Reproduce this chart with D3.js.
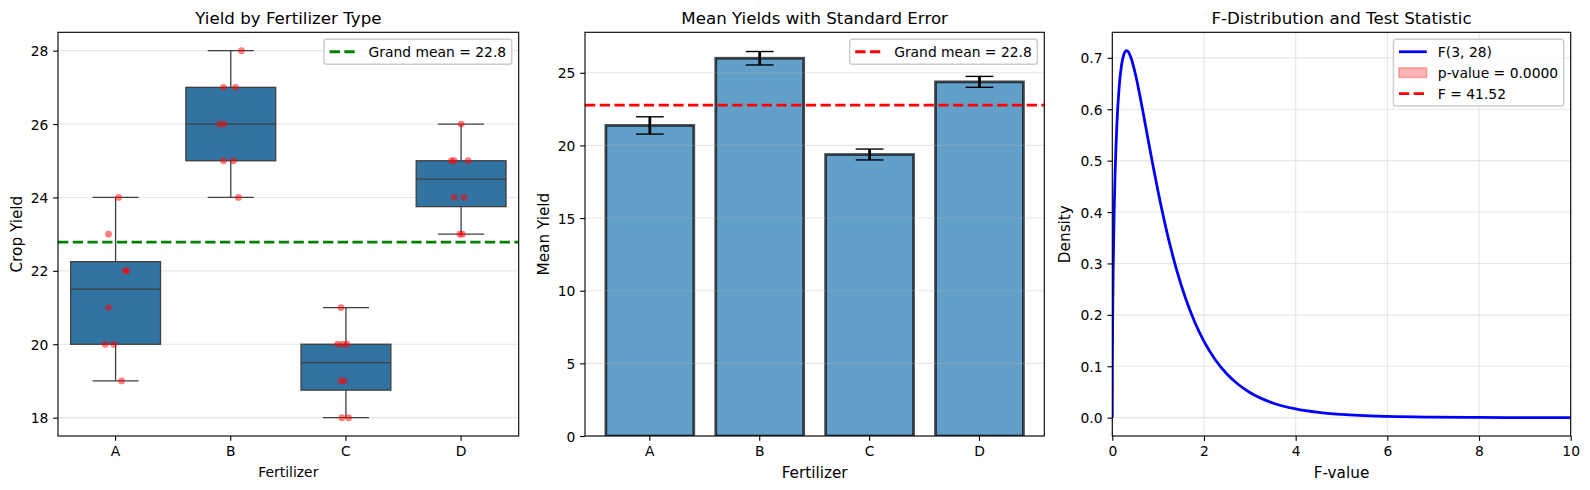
<!DOCTYPE html>
<html>
<head>
<meta charset="utf-8">
<script src="https://cdn.jsdelivr.net/npm/d3@7"></script>
<style>
  body { margin: 0; background: #ffffff; }
  svg { display: block; font-family: "DejaVu Sans", sans-serif; }
</style>
</head>
<body>
<svg id="chart" width="1590" height="490"></svg>
<script>
// ---------------- DATA ----------------
const categories = ["A", "B", "C", "D"];
const yieldA = [24, 23, 22, 22, 21, 20, 20, 19];
const yieldB = [28, 27, 27, 26, 26, 25, 25, 24];
const yieldC = [21, 20, 20, 20, 19, 19, 18, 18];
const yieldD = [26, 25, 25, 25, 24, 24, 23, 23];
// strip-plot jitter (fraction of a category slot)
const jitterA = [0.026, -0.061, 0.084, 0.098, -0.061, -0.090, -0.017, 0.052];
const jitterB = [0.093, -0.063, 0.041, -0.098, -0.058, -0.063, 0.023, 0.067];
const jitterC = [-0.043, -0.072, -0.029, 0.009, -0.043, -0.015, -0.035, 0.023];
const jitterD = [0.0, -0.084, -0.061, 0.061, -0.061, 0.026, -0.011, 0.011];

const boxYTicks = [18, 20, 22, 24, 26, 28];
const barYTicks = [0, 5, 10, 15, 20, 25];
const fXTicks = [0, 2, 4, 6, 8, 10];
const fYTicks = [0, 0.1, 0.2, 0.3, 0.4, 0.5, 0.6, 0.7];

// F(3, 28) density, values read/evaluated at these F-values
const fX = [0, 0.001, 0.0025, 0.005, 0.01, 0.02, 0.04, 0.06, 0.08, 0.1, 0.15, 0.2, 0.25, 0.3, 0.3111, 0.35, 0.4, 0.5, 0.6, 0.7, 0.8, 0.9, 1.0, 1.2, 1.4, 1.6, 1.8, 2.0, 2.25, 2.5, 2.75, 3.0, 3.5, 4.0, 4.5, 5, 6, 7, 8, 9, 10];
const fDensity = [0, 0.0672, 0.1060, 0.1492, 0.2093, 0.2911, 0.3983, 0.4720, 0.5273, 0.5705, 0.6437, 0.6851, 0.7063, 0.7138, 0.7140, 0.7115, 0.7023, 0.6701, 0.6275, 0.5803, 0.5320, 0.4846, 0.4394, 0.3576, 0.2885, 0.2317, 0.1856, 0.1484, 0.1123, 0.0850, 0.0645, 0.0490, 0.0286, 0.0169, 0.0101, 0.0062, 0.0024, 0.00096, 0.00041, 0.00018, 0.00008];
const dfBetween = 3;
const dfWithin = 28;
const pValueText = "0.0000";

const titles = ["Yield by Fertilizer Type", "Mean Yields with Standard Error", "F-Distribution and Test Statistic"];

// ---------------- DERIVED ----------------
const groups = [yieldA, yieldB, yieldC, yieldD];
const jitters = [jitterA, jitterB, jitterC, jitterD];
const allValues = groups.flat();
const grandMean = d3.mean(allValues);
const means = groups.map(g => d3.mean(g));
const ses = groups.map(g => d3.deviation(g) / Math.sqrt(g.length));
const ssb = d3.sum(groups, (g, i) => g.length * (means[i] - grandMean) ** 2);
const ssw = d3.sum(groups, (g, i) => d3.sum(g, v => (v - means[i]) ** 2));
const fStat = (ssb / dfBetween) / (ssw / dfWithin);

// ---------------- STYLE / LAYOUT ----------------
const K = 100 / 72;               // px per point
const FS_TICK = 10 * K, FS_LAB = 11 * K, FS_TITLE = 12 * K;
const TOP = 32.3, BOT = 436;
const P = {
  left:  {x0: 58,     x1: 518.7},
  mid:   {x0: 585,    x1: 1044.3},
  right: {x0: 1112.3, x1: 1570.7}
};
const DASH = `${3.7 * 2 * K},${1.6 * 2 * K}`;

const svg = d3.select("#chart");
svg.append("rect").attr("width", 1590).attr("height", 490).attr("fill", "#fff");
const defs = svg.append("defs");
Object.entries(P).forEach(([k, p]) => {
  defs.append("clipPath").attr("id", "clip-" + k)
    .append("rect").attr("x", p.x0).attr("y", TOP).attr("width", p.x1 - p.x0).attr("height", BOT - TOP);
});

function styleAxis(sel, left) {
  sel.select(".domain").remove();
  sel.attr("font-family", null).attr("font-size", null);
  sel.selectAll(".tick line").attr("stroke", "#000").attr("stroke-width", 0.8 * K);
  const t = sel.selectAll(".tick text").attr("fill", "#000")
    .style("font-size", FS_TICK + "px").style("font-family", "DejaVu Sans");
  if (left) t.attr("dy", "0.36em");
}
function yGrid(g, y, ticks, p) {
  g.append("g").selectAll("line").data(ticks).join("line")
    .attr("x1", p.x0).attr("x2", p.x1).attr("y1", d => y(d)).attr("y2", d => y(d))
    .attr("stroke", "#b0b0b0").attr("stroke-opacity", 0.3).attr("stroke-width", 0.8 * K);
}
function xGrid(g, x, ticks) {
  g.append("g").selectAll("line").data(ticks).join("line")
    .attr("x1", d => x(d)).attr("x2", d => x(d)).attr("y1", TOP).attr("y2", BOT)
    .attr("stroke", "#b0b0b0").attr("stroke-opacity", 0.3).attr("stroke-width", 0.8 * K);
}
function frame(g, p) {
  g.append("rect").attr("x", p.x0).attr("y", TOP).attr("width", p.x1 - p.x0).attr("height", BOT - TOP)
    .attr("fill", "none").attr("stroke", "#000").attr("stroke-width", 0.8 * K);
}
function title(g, p, txt) {
  g.append("text").attr("x", (p.x0 + p.x1) / 2).attr("y", 24).attr("text-anchor", "middle")
    .style("font-size", FS_TITLE + "px").attr("fill", "#000").text(txt);
}
function xLabel(g, p, txt, fs, yb) {
  g.append("text").attr("x", (p.x0 + p.x1) / 2).attr("y", yb).attr("text-anchor", "middle")
    .style("font-size", fs + "px").attr("fill", "#000").text(txt);
}
function yLabel(g, xb, txt, fs) {
  const cy = (TOP + BOT) / 2;
  g.append("text").attr("transform", `translate(${xb},${cy}) rotate(-90)`).attr("text-anchor", "middle")
    .style("font-size", fs + "px").attr("fill", "#000").text(txt);
}
function legend(g, p, items) {
  const pad = 0.4 * FS_TICK, hl = 2 * FS_TICK, htp = 0.8 * FS_TICK, rowH = 20.9;
  const lg = g.append("g");
  const box = lg.append("rect");
  const top = TOP + 0.5 * FS_TICK;
  const texts = items.map((it, i) => lg.append("text")
    .attr("y", top + pad + 6.95 + i * rowH + 5.4)
    .style("font-size", FS_TICK + "px").attr("fill", "#000").text(it.label));
  const tw = d3.max(texts, t => t.node().getComputedTextLength());
  const w = pad + hl + htp + tw + pad;
  const h = 2 * pad + FS_TICK + (items.length - 1) * rowH;
  const left = p.x1 - 0.5 * FS_TICK - w;
  box.attr("x", left).attr("y", top).attr("width", w).attr("height", h).attr("rx", 2.5)
    .attr("fill", "#fff").attr("fill-opacity", 0.8).attr("stroke", "#cccccc").attr("stroke-width", 1 * K);
  texts.forEach(t => t.attr("x", left + pad + hl + htp));
  items.forEach((it, i) => {
    const cy = top + pad + 6.95 + i * rowH;
    const hx = left + pad;
    if (it.type === "patch") {
      lg.append("rect").attr("x", hx).attr("y", cy - 0.35 * FS_TICK).attr("width", hl).attr("height", 0.7 * FS_TICK)
        .attr("fill", it.color).attr("fill-opacity", 0.3).attr("stroke", it.color).attr("stroke-opacity", 0.3).attr("stroke-width", K);
    } else {
      lg.append("line").attr("x1", hx).attr("x2", hx + hl).attr("y1", cy).attr("y2", cy)
        .attr("stroke", it.color).attr("stroke-width", 2 * K)
        .attr("stroke-dasharray", it.type === "dash" ? DASH : null);
    }
  });
}

// ================= PANEL 1: BOX + STRIP =================
{
  const p = P.left;
  const g = svg.append("g");
  const x = d3.scaleBand().domain(categories).range([p.x0, p.x1]).padding(0);
  const y = d3.scaleLinear().domain([17.5, 28.5]).range([BOT, TOP]);
  const bw = x.bandwidth();
  yGrid(g, y, boxYTicks, p);

  const plot = g.append("g").attr("clip-path", "url(#clip-left)");
  const lineCol = "#3f3f3f", lw = 1.3;
  categories.forEach((c, i) => {
    const s = groups[i].slice().sort(d3.ascending);
    const q1 = d3.quantile(s, 0.25), med = d3.quantile(s, 0.5), q3 = d3.quantile(s, 0.75);
    const iqr = q3 - q1;
    const lo = d3.min(s.filter(v => v >= q1 - 1.5 * iqr));
    const hi = d3.max(s.filter(v => v <= q3 + 1.5 * iqr));
    const cx = x(c) + bw / 2, boxW = 0.78 * bw, capW = 0.4 * bw;
    plot.append("line").attr("x1", cx).attr("x2", cx).attr("y1", y(q3)).attr("y2", y(hi)).attr("stroke", lineCol).attr("stroke-width", lw);
    plot.append("line").attr("x1", cx).attr("x2", cx).attr("y1", y(q1)).attr("y2", y(lo)).attr("stroke", lineCol).attr("stroke-width", lw);
    plot.append("line").attr("x1", cx - capW / 2).attr("x2", cx + capW / 2).attr("y1", y(hi)).attr("y2", y(hi)).attr("stroke", lineCol).attr("stroke-width", lw);
    plot.append("line").attr("x1", cx - capW / 2).attr("x2", cx + capW / 2).attr("y1", y(lo)).attr("y2", y(lo)).attr("stroke", lineCol).attr("stroke-width", lw);
    plot.append("rect").attr("x", cx - boxW / 2).attr("y", y(q3)).attr("width", boxW).attr("height", y(q1) - y(q3))
      .attr("fill", "#3274a1").attr("stroke", lineCol).attr("stroke-width", lw);
    plot.append("line").attr("x1", cx - boxW / 2).attr("x2", cx + boxW / 2).attr("y1", y(med)).attr("y2", y(med)).attr("stroke", lineCol).attr("stroke-width", lw);
  });
  categories.forEach((c, i) => {
    plot.append("g").selectAll("circle").data(groups[i]).join("circle")
      .attr("cx", (v, j) => x(c) + bw / 2 + jitters[i][j] * bw)
      .attr("cy", v => y(v)).attr("r", 3.4)
      .attr("fill", "red").attr("fill-opacity", 0.5);
  });
  plot.append("line").attr("x1", p.x0).attr("x2", p.x1).attr("y1", y(grandMean)).attr("y2", y(grandMean))
    .attr("stroke", "green").attr("stroke-width", 2 * K).attr("stroke-dasharray", DASH);

  const ax = g.append("g").attr("transform", `translate(0,${BOT})`)
    .call(d3.axisBottom(x).tickSize(0.35 * FS_TICK).tickPadding(0.35 * FS_TICK));
  styleAxis(ax, false);
  const ay = g.append("g").attr("transform", `translate(${p.x0},0)`)
    .call(d3.axisLeft(y).tickValues(boxYTicks).tickFormat(d3.format("d")).tickSize(0.35 * FS_TICK).tickPadding(0.35 * FS_TICK));
  styleAxis(ay, true);
  frame(g, p);
  title(g, p, titles[0]);
  xLabel(g, p, "Fertilizer", FS_TICK, 476.5);
  yLabel(g, 22, "Crop Yield", FS_LAB);
  legend(g, p, [{label: `Grand mean = ${grandMean.toFixed(1)}`, type: "dash", color: "green"}]);
}

// ================= PANEL 2: BARS =================
{
  const p = P.mid;
  const g = svg.append("g");
  const x = d3.scaleBand().domain(categories).range([p.x0, p.x1]).paddingInner(0.2).paddingOuter(0.19);
  const yTop = d3.max(means, (m, i) => m + ses[i]) * 1.05;
  const y = d3.scaleLinear().domain([0, yTop]).range([BOT, TOP]);
  const plot = g.append("g").attr("clip-path", "url(#clip-mid)");
  plot.selectAll("rect.bar").data(categories).join("rect").attr("class", "bar")
    .attr("x", c => x(c)).attr("width", x.bandwidth())
    .attr("y", (c, i) => y(means[i])).attr("height", (c, i) => BOT - y(means[i]))
    .attr("fill", "#1f77b4").attr("fill-opacity", 0.7)
    .attr("stroke", "#000").attr("stroke-opacity", 0.7).attr("stroke-width", 2 * K);
  yGrid(g, y, barYTicks, p);
  const eb = g.append("g");
  categories.forEach((c, i) => {
    const cx = x(c) + x.bandwidth() / 2, cap = 10 * K;
    eb.append("line").attr("x1", cx).attr("x2", cx).attr("y1", y(means[i] - ses[i])).attr("y2", y(means[i] + ses[i]))
      .attr("stroke", "#000").attr("stroke-width", 2 * K);
    [means[i] - ses[i], means[i] + ses[i]].forEach(v => {
      eb.append("line").attr("x1", cx - cap).attr("x2", cx + cap).attr("y1", y(v)).attr("y2", y(v))
        .attr("stroke", "#000").attr("stroke-width", 1 * K);
    });
  });
  plot.append("line").attr("x1", p.x0).attr("x2", p.x1).attr("y1", y(grandMean)).attr("y2", y(grandMean))
    .attr("stroke", "red").attr("stroke-width", 2 * K).attr("stroke-dasharray", DASH);

  const ax = g.append("g").attr("transform", `translate(0,${BOT})`)
    .call(d3.axisBottom(x).tickSize(0.35 * FS_TICK).tickPadding(0.35 * FS_TICK));
  styleAxis(ax, false);
  const ay = g.append("g").attr("transform", `translate(${p.x0},0)`)
    .call(d3.axisLeft(y).tickValues(barYTicks).tickFormat(d3.format("d")).tickSize(0.35 * FS_TICK).tickPadding(0.35 * FS_TICK));
  styleAxis(ay, true);
  frame(g, p);
  title(g, p, titles[1]);
  xLabel(g, p, "Fertilizer", FS_LAB, 478);
  yLabel(g, 548.5, "Mean Yield", FS_LAB);
  legend(g, p, [{label: `Grand mean = ${grandMean.toFixed(1)}`, type: "dash", color: "red"}]);
}

// ================= PANEL 3: F DISTRIBUTION =================
{
  const p = P.right;
  const g = svg.append("g");
  const x = d3.scaleLinear().domain([0, 10]).range([p.x0, p.x1]);
  const fmax = d3.max(fDensity);
  const y = d3.scaleLinear().domain([-0.05 * fmax, 1.05 * fmax]).range([BOT, TOP]);
  xGrid(g, x, fXTicks);
  yGrid(g, y, fYTicks, p);
  const plot = g.append("g").attr("clip-path", "url(#clip-right)");
  const pts = fX.map((v, i) => [v, fDensity[i]]);
  plot.append("path").datum(pts)
    .attr("d", d3.line().x(d => x(d[0])).y(d => y(d[1])).curve(d3.curveMonotoneX))
    .attr("fill", "none").attr("stroke", "blue").attr("stroke-width", 2 * K).attr("stroke-linejoin", "round");
  plot.append("line").attr("x1", x(fStat)).attr("x2", x(fStat)).attr("y1", TOP).attr("y2", BOT)
    .attr("stroke", "red").attr("stroke-width", 2 * K).attr("stroke-dasharray", DASH);

  const ax = g.append("g").attr("transform", `translate(0,${BOT})`)
    .call(d3.axisBottom(x).tickValues(fXTicks).tickFormat(d3.format("d")).tickSize(0.35 * FS_TICK).tickPadding(0.35 * FS_TICK));
  styleAxis(ax, false);
  const ay = g.append("g").attr("transform", `translate(${p.x0},0)`)
    .call(d3.axisLeft(y).tickValues(fYTicks).tickFormat(d3.format(".1f")).tickSize(0.35 * FS_TICK).tickPadding(0.35 * FS_TICK));
  styleAxis(ay, true);
  frame(g, p);
  title(g, p, titles[2]);
  xLabel(g, p, "F-value", FS_LAB, 478);
  yLabel(g, 1069.5, "Density", FS_LAB);
  legend(g, p, [
    {label: `F(${dfBetween}, ${dfWithin})`, type: "line", color: "blue"},
    {label: `p-value = ${pValueText}`, type: "patch", color: "red"},
    {label: `F = ${fStat.toFixed(2)}`, type: "dash", color: "red"}
  ]);
}
</script>
</body>
</html>
